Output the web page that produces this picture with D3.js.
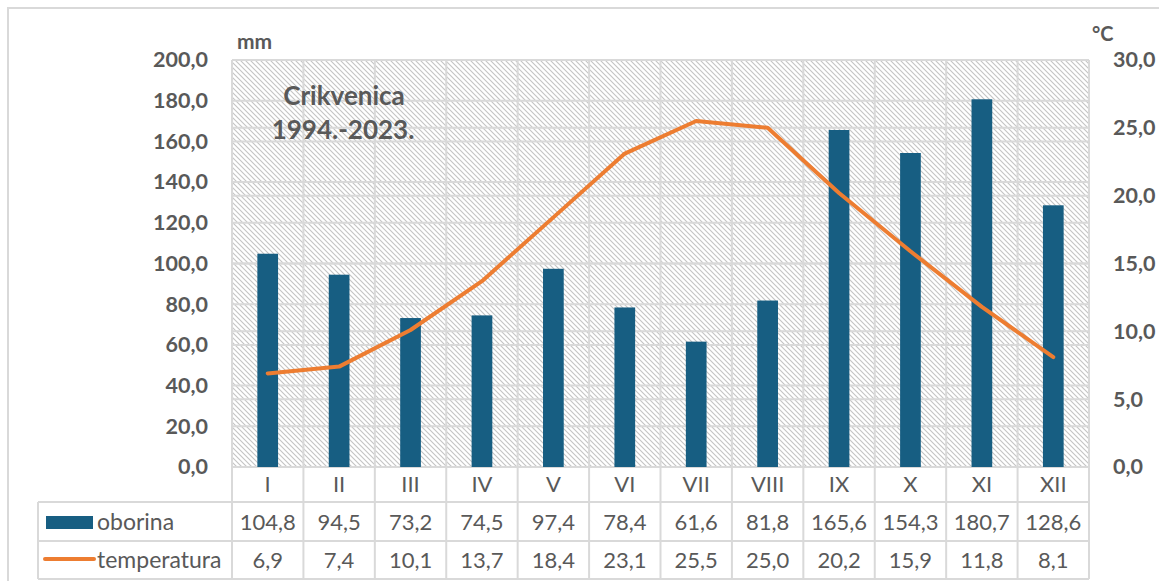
<!DOCTYPE html>
<html><head><meta charset="utf-8">
<script src="https://cdn.jsdelivr.net/npm/d3@7"></script>
<style>body{margin:0;background:#fff}svg{display:block}text{font-family:Lato,"Open Sans",sans-serif}</style>
</head><body><svg id="c" width="1159" height="581"></svg>
<script>
const months = ["I","II","III","IV","V","VI","VII","VIII","IX","X","XI","XII"];
const oborina = [104.8,94.5,73.2,74.5,97.4,78.4,61.6,81.8,165.6,154.3,180.7,128.6];
const temperatura = [6.9,7.4,10.1,13.7,18.4,23.1,25.5,25.0,20.2,15.9,11.8,8.1];
const leftTicks = [0,20,40,60,80,100,120,140,160,180,200];
const rightTicks = [0,5,10,15,20,25,30];
const seriesNames = ["oborina","temperatura"];

const fmt = v => v.toFixed(1).replace(".", ",");
const svg = d3.select("#c");
const L = 232, R = 1089, T = 60, B = 467;
const grid = "#d9d9d9", txt = "#595959";
const barColor = "#175e82", lineColor = "#ed7d31";

svg.append("rect").attr("x",8).attr("y",8).attr("width",1160).attr("height",600)
  .attr("fill","#fff").attr("stroke","#d9d9d9").attr("stroke-width",2);

const defs = svg.append("defs");
const pat = defs.append("pattern").attr("id","hatch").attr("patternUnits","userSpaceOnUse")
  .attr("width",5).attr("height",5);
pat.append("rect").attr("width",5).attr("height",5).attr("fill","#fff");
pat.append("path").attr("d","M0,0L5,5M-1,4L1,6M4,-1L6,1").attr("stroke","#c4c4c4").attr("stroke-width",1.1);

const x = d3.scaleBand().domain(months).range([L,R]).padding(0);
const yL = d3.scaleLinear().domain([0,200]).range([B,T]);
const yR = d3.scaleLinear().domain([0,30]).range([B,T]);

svg.append("rect").attr("x",L).attr("y",T).attr("width",R-L).attr("height",B-T).attr("fill","url(#hatch)");

const g = svg.append("g").attr("stroke",grid).attr("stroke-width",2);
leftTicks.forEach(t => g.append("line").attr("x1",L).attr("x2",R).attr("y1",yL(t)).attr("y2",yL(t)));
rightTicks.forEach(t => g.append("line").attr("x1",L).attr("x2",R).attr("y1",yR(t)).attr("y2",yR(t)));
months.forEach(m => g.append("line").attr("x1",x(m)).attr("x2",x(m)).attr("y1",T).attr("y2",579));
g.append("line").attr("x1",R).attr("x2",R).attr("y1",T).attr("y2",579);

[502, 541, 579].forEach(y => g.append("line").attr("x1",38).attr("x2",R).attr("y1",y).attr("y2",y));
g.append("line").attr("x1",38).attr("x2",38).attr("y1",502).attr("y2",579);

const bw = x.bandwidth()*0.29;
svg.append("g").selectAll("rect").data(oborina).join("rect")
  .attr("x",(d,i)=>x(months[i])+x.bandwidth()/2-bw/2)
  .attr("y",d=>yL(d)).attr("width",bw).attr("height",d=>yL(0)-yL(d)).attr("fill",barColor);

const line = d3.line().x((d,i)=>x(months[i])+x.bandwidth()/2).y(d=>yR(d));
svg.append("path").datum(temperatura).attr("d",line).attr("fill","none")
  .attr("stroke",lineColor).attr("stroke-width",4).attr("stroke-linejoin","round").attr("stroke-linecap","round");

const axL = d3.axisLeft(yL).tickValues(leftTicks).tickFormat(fmt).tickSize(0).tickPadding(24);
const gL = svg.append("g").attr("transform",`translate(${L},0)`).call(axL);
gL.select(".domain").remove();
gL.selectAll("text").attr("fill",txt).style("font-size","21.5px").style("font-weight","bold").style("font-family","Lato");

const axR = d3.axisRight(yR).tickValues(rightTicks).tickFormat(fmt).tickSize(0).tickPadding(24);
const gR = svg.append("g").attr("transform",`translate(${R},0)`).call(axR);
gR.select(".domain").remove();
gR.selectAll("text").attr("fill",txt).style("font-size","21.5px").style("font-weight","bold").style("font-family","Lato");

svg.append("text").attr("x",237).attr("y",49).text("mm").attr("fill",txt)
  .style("font-size","21px").style("font-weight","bold");
svg.append("text").attr("x",1092).attr("y",41).text("°C").attr("fill",txt)
  .style("font-size","20px").style("font-weight","bold");

svg.append("text").attr("x",344).attr("y",105).attr("text-anchor","middle").text("Crikvenica")
  .attr("fill",txt).style("font-size","26px").style("font-weight","bold");
svg.append("text").attr("x",343).attr("y",139).attr("text-anchor","middle").text("1994.-2023.")
  .attr("fill",txt).style("font-size","26px").style("font-weight","bold");

const tt = svg.append("g").attr("fill",txt).style("font-size","22px").attr("text-anchor","middle");
months.forEach((m,i) => {
  const cx = x(m)+x.bandwidth()/2;
  tt.append("text").attr("x",cx).attr("y",492).text(m);
  tt.append("text").attr("x",cx).attr("y",530).text(fmt(oborina[i]));
  tt.append("text").attr("x",cx).attr("y",568).text(fmt(temperatura[i]));
});
svg.append("rect").attr("x",46).attr("y",516).attr("width",47).attr("height",13).attr("fill",barColor);
svg.append("line").attr("x1",45).attr("x2",94).attr("y1",559).attr("y2",559)
  .attr("stroke",lineColor).attr("stroke-width",4).attr("stroke-linecap","round");
svg.append("text").attr("x",97).attr("y",530).text(seriesNames[0]).attr("fill",txt).style("font-size","23px");
svg.append("text").attr("x",97).attr("y",568).text(seriesNames[1]).attr("fill",txt).style("font-size","23px");
</script></body></html>
